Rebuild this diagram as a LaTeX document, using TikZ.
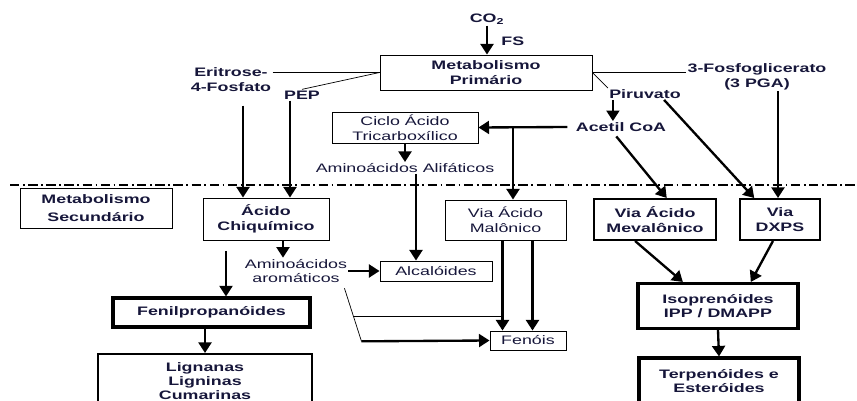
\documentclass[tikz,border=0pt]{standalone}
\usepackage{fontspec}
\setmainfont{Liberation Sans}[FakeStretch=1.45]
\usepackage{xcolor}
\usepackage{tikz}
\usetikzlibrary{positioning,arrows.meta,calc}
\definecolor{ink}{RGB}{22,22,58}

\begin{document}
\begin{tikzpicture}[x=0.03cm,y=-0.03cm,
    every node/.style={font=\fontsize{10.5}{12.5}\selectfont,text=ink,align=center,inner sep=1pt},
    lbl/.style={font=\fontsize{10.5}{12.5}\selectfont\bfseries},
    box/.style={draw,line width=0.8pt,inner sep=2pt},
    bbox/.style={box,font=\fontsize{10.5}{12.5}\selectfont\bfseries},
    midbox/.style={bbox,line width=1.7pt},
    heavybox/.style={bbox,line width=2.6pt},
    arr/.style={line width=2pt,-{Triangle[width=11pt,length=9pt]}},
    link/.style={line width=0.6pt}]
    \useasboundingbox (0,0) rectangle (857,401);
    \clip (0,0) rectangle (857,401);
    % primario
    \node[lbl] (co2) at (487,19) {CO\textsubscript{2}};
    \node[lbl,anchor=west] (fs) at (500,41) {FS};
    \node[bbox,minimum width=6.36cm,minimum height=1.05cm] (prim) at (486,72.5) {Metabolismo\\Primário};
    \node[lbl] (eritr) at (231,79.5) {Eritrose-\\4-Fosfato};
    \node[lbl] (pep) at (302,95) {PEP};
    \node[lbl] (pga) at (757,77) {3-Fosfoglicerato\\(3 PGA)};
    \node[lbl] (piruv) at (645,94) {Piruvato};
    \node[lbl] (acetil) at (621,127) {Acetil CoA};
    \node[box,minimum width=4.38cm,minimum height=0.93cm] (ciclo) at (405,127.5) {Ciclo Ácido\\Tricarboxílico};
    \node (alifat) at (405,168) {Aminoácidos Alifáticos};
    \coordinate (brk) at (513,127);
    % linha divisoria
    \draw[line width=1.2pt,dash pattern=on 8pt off 3pt on 1.5pt off 3pt] (10,185) -- (857,185);
    % secundario
    \node[bbox,minimum width=4.56cm,minimum height=1.2cm] (secund) at (96,208) {Metabolismo\\[3pt]Secundário};
    \node[bbox,minimum width=3.78cm,minimum height=1.26cm] (chiq) at (266,219) {Ácido\\Chiquímico};
    \node[box,minimum width=3.63cm,minimum height=1.2cm] (malon) at (505.5,220) {Via Ácido\\Malônico};
    \node[midbox,minimum width=3.66cm,minimum height=1.23cm] (meval) at (655,219.5) {Via Ácido\\Mevalônico};
    \node[midbox,minimum width=2.4cm,minimum height=1.23cm] (dxps) at (780,219.5) {Via\\DXPS};
    \node (aromat) at (296,271) {Aminoácidos\\aromáticos};
    \node[box,minimum width=3.36cm,minimum height=0.6cm] (alcal) at (436,271) {Alcalóides};
    \node[heavybox,minimum width=5.91cm,minimum height=0.87cm] (fenil) at (211.5,312.5) {Fenilpropanóides};
    \node[box,minimum width=2.28cm,minimum height=0.57cm] (fenois) at (528,340.5) {Fenóis};
    \node[heavybox,minimum width=4.8cm,minimum height=1.35cm] (isopr) at (718,306) {Isoprenóides\\IPP / DMAPP};
    \node[midbox,minimum width=6.42cm,minimum height=1.62cm,font=\fontsize{10.5}{12}\selectfont\bfseries] (lign) at (205,381) {Lignanas\\Ligninas\\Cumarinas};
    \node[heavybox,minimum width=4.8cm,minimum height=1.38cm] (terp) at (719,381) {Terpenóides e\\Esteróides};
    \coordinate (fstart) at (226,251);

    % ligacoes de cima
    \draw[arr] (co2.south) -- (co2.south |- prim.north);
    \draw[link] (eritr.east |- prim.west) -- (prim.west);
    \draw[link] (pep.north) -- (prim.west);
    \draw[link] (prim.east) -- (prim.east -| pga.west);
    \draw[link] (prim.east) -- (piruv.north west);
    \draw[arr] ($(piruv.south west)+(5,0)$) coordinate (t) -- (t |- acetil.north);
    \draw[arr] ([xshift=-6pt]acetil.west) -- (ciclo.east);
    \draw[arr] (brk) -- (brk |- malon.north);
    \draw[arr] (ciclo.south) -- (alifat.north);
    \draw[arr] ($(alifat.south)+(11,0)$) coordinate (t) -- (t |- alcal.north);
    \draw[arr] ($(eritr.south)+(12,13)$) coordinate (t) -- (t |- chiq.north);
    \draw[arr] ($(pep.south)+(-12,0)$) coordinate (t) -- (t |- chiq.north);
    \draw[arr] ([xshift=-4pt,yshift=-3pt]acetil.south) -- ([xshift=10pt]meval.north);
    \draw[arr] ($(piruv.south east)+(-18,0)$) -- ([xshift=-22pt]dxps.north);
    \draw[arr] ($(pga.south)+(21,0)$) coordinate (t) -- (t |- dxps.north);

    % lado esquerdo
    \draw[arr] ($(chiq.south)+(17,0)$) coordinate (t) -- (t |- aromat.north);
    \draw[arr] (fstart) -- (fstart |- fenil.north);
    \draw[arr] (aromat.east) -- (alcal.west);
    \draw[arr] (fenil.south -| lign.north) -- (lign.north);
    \draw[arr] ($(malon.south)+(-3,0)$) coordinate (m1) -- (m1 |- fenois.north);
    \draw[arr] ($(malon.south)+(27,0)$) coordinate (m2) -- (m2 |- fenois.north);
    \coordinate (ar1) at ($(aromat.south east)+(-4,4)$);
    \coordinate (ar2) at ($(ar1)+(17,53)$);
    \draw[link] (ar1) -- (ar2);
    \draw[arr] (ar2) -- (fenois.west);
    \draw[link] ($(ar1)!0.53!(ar2)$) coordinate (t) -- (t -| m1);

    % lado direito
    \draw[arr] ([xshift=-17pt]meval.south) -- ([xshift=-30pt]isopr.north);
    \draw[arr] ([xshift=-6pt]dxps.south) -- ([xshift=28pt]isopr.north);
    \draw[arr] (isopr.south) -- (terp.north);
  \end{tikzpicture}
\end{document}
